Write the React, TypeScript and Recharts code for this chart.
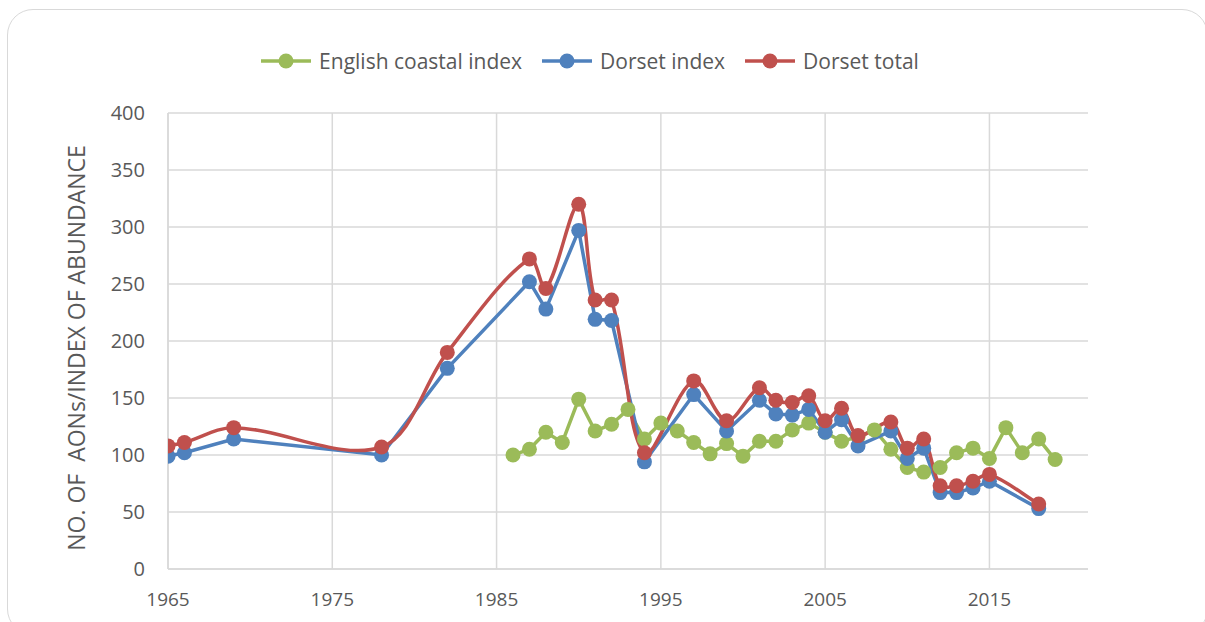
import React from 'react';
import { LineChart, Line, XAxis, YAxis, CartesianGrid, Legend, Label } from 'recharts';

// survey years for the Dorset counts
const dorsetYears = [1965, 1966, 1969, 1978, 1982, 1987, 1988, 1990, 1991, 1992, 1994, 1997, 1999, 2001, 2002, 2003, 2004, 2005, 2006, 2007, 2009, 2010, 2011, 2012, 2013, 2014, 2015, 2018];
const dorsetIndex = [99, 102, 114, 100, 176, 252, 228, 297, 219, 218, 94, 153, 121, 148, 136, 135, 140, 120, 131, 108, 121, 97, 106, 67, 67, 71, 77, 53];
const dorsetTotal = [108, 111, 124, 107, 190, 272, 246, 320, 236, 236, 102, 165, 130, 159, 148, 146, 152, 130, 141, 117, 129, 106, 114, 73, 73, 77, 83, 57];

const coastalYears = [1986, 1987, 1988, 1989, 1990, 1991, 1992, 1993, 1994, 1995, 1996, 1997, 1998, 1999, 2000, 2001, 2002, 2003, 2004, 2005, 2006, 2007, 2008, 2009, 2010, 2011, 2012, 2013, 2014, 2015, 2016, 2017, 2018, 2019];
const coastalIndex = [100, 105, 120, 111, 149, 121, 127, 140, 114, 128, 121, 111, 101, 110, 99, 112, 112, 122, 128, 120, 112, 116, 122, 105, 89, 85, 89, 102, 106, 97, 124, 102, 114, 96];

const xDomain = [1965, 2021];
const xTicks = [1965, 1975, 1985, 1995, 2005, 2015];
const yTicks = [0, 50, 100, 150, 200, 250, 300, 350, 400];

const seriesNames = ['English coastal index', 'Dorset index', 'Dorset total'];
const seriesColors = ['#9BBB59', '#4F81BD', '#C0504D'];

const indexData = dorsetYears.map((year, i) => ({ year, value: dorsetIndex[i] }));
const totalData = dorsetYears.map((year, i) => ({ year, value: dorsetTotal[i] }));
const coastalData = coastalYears.map((year, i) => ({ year, value: coastalIndex[i] }));

const FONT = '"Open Sans", "DejaVu Sans", sans-serif';
const TEXT = '#595959';
const GRID = '#D9D9D9';

const dist = (a: number[], b: number[]) => Math.hypot(b[0] - a[0], b[1] - a[1]);

// excel-style smoothing: bezier through the points, tangents scaled by segment length
const smoothCurve = (context: any) => {
  let pts: number[][] = [];
  return {
    areaStart() {},
    areaEnd() {},
    lineStart() {
      pts = [];
    },
    lineEnd() {
      const n = pts.length;
      if (!n) return;
      context.moveTo(pts[0][0], pts[0][1]);
      if (n === 1) return;
      const tangent = (i: number) => {
        const prev = pts[Math.max(0, i - 1)];
        const next = pts[Math.min(n - 1, i + 1)];
        return [next[0] - prev[0], next[1] - prev[1]];
      };
      const share = (i: number, j: number) => {
        // portion of tangent at point i used toward neighbour j
        const a = i > 0 ? dist(pts[i - 1], pts[i]) : 0;
        const b = i < n - 1 ? dist(pts[i], pts[i + 1]) : 0;
        const seg = dist(pts[i], pts[j]);
        const total = a + b;
        return total ? seg / total / 3 : 0;
      };
      for (let i = 0; i < n - 1; i++) {
        const p1 = pts[i];
        const p2 = pts[i + 1];
        const t1 = tangent(i);
        const t2 = tangent(i + 1);
        const s1 = share(i, i + 1);
        const s2 = share(i + 1, i);
        context.bezierCurveTo(
          p1[0] + t1[0] * s1,
          p1[1] + t1[1] * s1,
          p2[0] - t2[0] * s2,
          p2[1] - t2[1] * s2,
          p2[0],
          p2[1]
        );
      }
    },
    point(x: number, y: number) {
      pts.push([+x, +y]);
    },
  };
};

const LegendContent = () => (
  <div style={{ display: 'flex', justifyContent: 'center', alignItems: 'center', fontFamily: FONT, fontSize: 21, color: TEXT }}>
    {seriesNames.map((name, i) => (
      <div key={name} style={{ display: 'flex', alignItems: 'center', marginRight: i < 2 ? 20 : 0 }}>
        <svg width={50} height={16} style={{ marginRight: 8 }}>
          <line x1={0} y1={8} x2={50} y2={8} stroke={seriesColors[i]} strokeWidth={3.5} />
          <circle cx={25} cy={8} r={7.5} fill={seriesColors[i]} />
        </svg>
        <span>{name}</span>
      </div>
    ))}
  </div>
);

const YTitle = () => (
  <text
    x={76}
    y={348}
    transform="rotate(-90 76 348)"
    textAnchor="middle"
    dominantBaseline="central"
    fill={TEXT}
    fontSize={23}
    fontFamily={FONT}
    style={{ whiteSpace: 'pre' }}
  >
    NO. OF  AONs/INDEX OF ABUNDANCE
  </text>
);

// vertical grid only at the labelled years (no line at the right end)
const gridVerticals = ({ offset }: any) =>
  xTicks.map((t) => offset.left + ((t - xDomain[0]) / (xDomain[1] - xDomain[0])) * offset.width);

export default function App() {
  return (
    <div style={{ position: 'absolute', left: 0, top: 0, width: 1205, height: 622, overflow: 'hidden', background: '#fff' }}>
      <div
        style={{
          position: 'absolute',
          left: 7,
          top: 9,
          width: 1201,
          height: 626,
          boxSizing: 'border-box',
          border: `1.5px solid ${GRID}`,
          borderRadius: 26,
        }}
      />
      <LineChart width={1205} height={622} margin={{ top: 113, right: 117, bottom: 0, left: 0 }} style={{ position: 'absolute', left: 0, top: 0 }}>
        <CartesianGrid stroke={GRID} strokeWidth={1.5} verticalCoordinatesGenerator={gridVerticals} />
        <XAxis
          dataKey="year"
          type="number"
          domain={xDomain}
          ticks={xTicks}
          allowDataOverflow
          height={53}
          tickLine={false}
          tickSize={0}
          tickMargin={24}
          axisLine={{ stroke: GRID, strokeWidth: 1.5 }}
          tick={{ fill: TEXT, fontSize: 19, fontFamily: FONT }}
        />
        <YAxis
          type="number"
          domain={[0, 400]}
          ticks={yTicks}
          width={168}
          tickLine={false}
          tickSize={0}
          tickMargin={23}
          axisLine={{ stroke: GRID, strokeWidth: 1.5 }}
          tick={{ fill: TEXT, fontSize: 20, fontFamily: FONT }}
        >
          <Label content={YTitle} />
        </YAxis>
        <Legend
          layout="horizontal"
          verticalAlign="middle"
          align="center"
          content={LegendContent}
          wrapperStyle={{ top: 47, left: 0, width: 1180 }}
        />
        <Line
          data={coastalData}
          dataKey="value"
          name={seriesNames[0]}
          type="linear"
          stroke={seriesColors[0]}
          strokeWidth={3.5}
          dot={{ r: 7.5, fill: seriesColors[0], stroke: 'none' }}
          activeDot={false}
          isAnimationActive={false}
        />
        <Line
          data={indexData}
          dataKey="value"
          name={seriesNames[1]}
          type="linear"
          stroke={seriesColors[1]}
          strokeWidth={3.5}
          dot={{ r: 7.5, fill: seriesColors[1], stroke: 'none' }}
          activeDot={false}
          isAnimationActive={false}
        />
        <Line
          data={totalData}
          dataKey="value"
          name={seriesNames[2]}
          type={smoothCurve as any}
          stroke={seriesColors[2]}
          strokeWidth={3.5}
          dot={{ r: 7.5, fill: seriesColors[2], stroke: 'none' }}
          activeDot={false}
          isAnimationActive={false}
        />
      </LineChart>
    </div>
  );
}
